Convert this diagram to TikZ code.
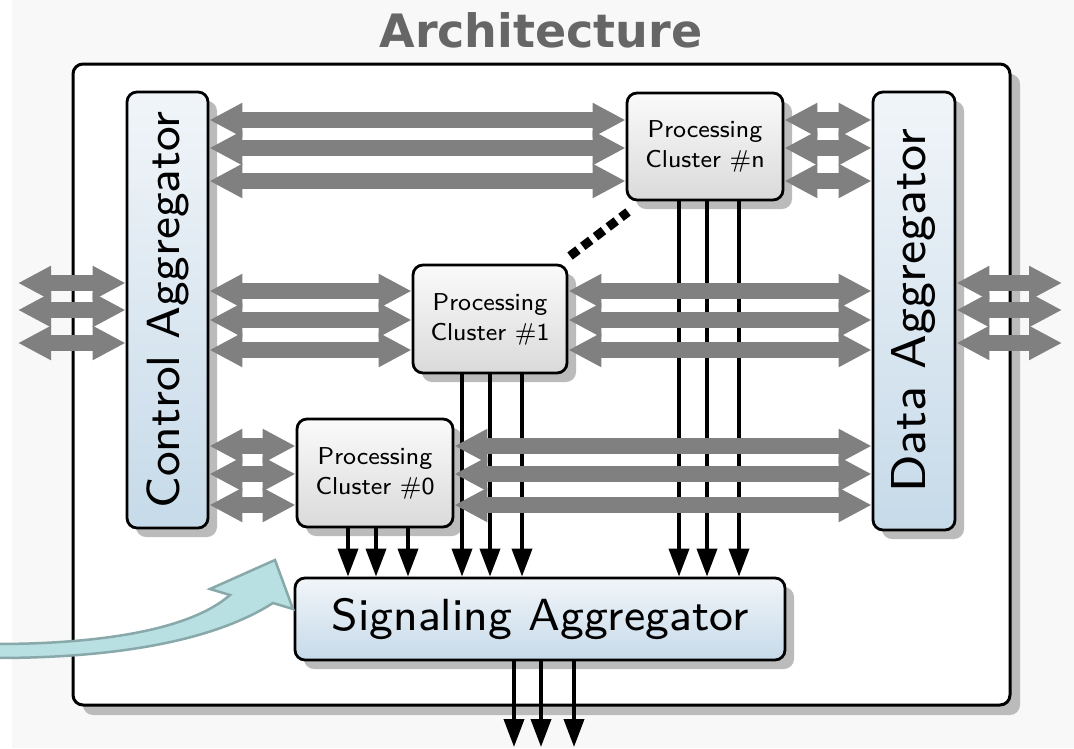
\documentclass[tikz,border=0pt]{standalone}
\usepackage{fontspec}
\newfontfamily\titlefont{DejaVu Sans}
\newfontfamily\boxfont{lmsans8-regular.otf}
\usetikzlibrary{arrows.meta,shadows}
\definecolor{bggray}{HTML}{F8F8F8}
\definecolor{titlegray}{HTML}{666666}
\definecolor{fatgray}{HTML}{808080}
\definecolor{shadowgray}{HTML}{BBBBBB}
\definecolor{aggtop}{HTML}{F1F5F9}
\definecolor{aggbot}{HTML}{C6DAE9}
\definecolor{pctop}{HTML}{FAFAFA}
\definecolor{pcbot}{HTML}{DADADA}
\definecolor{tealfill}{HTML}{B8DFE1}
\definecolor{tealline}{HTML}{88A8A9}
\tikzset{
  myshadow/.style={drop shadow={shadow xshift=9pt, shadow yshift=-9pt, opacity=1, fill=shadowgray}},
  box/.style={draw=black, line width=2.8pt, rounded corners=10pt, inner sep=0pt, align=center, font=\boxfont, myshadow},
  pcbox/.style={box, top color=pctop, bottom color=pcbot, minimum width=156pt, minimum height=107pt,
    font=\boxfont\fontsize{24.4}{30}\selectfont},
  aggbox/.style={box, top color=aggtop, bottom color=aggbot, font=\boxfont\fontsize{45}{50}\selectfont},
  fat/.style={draw=fatgray, line width=16pt, {Triangle[length=33pt,width=32pt]}-{Triangle[length=33pt,width=32pt]}},
  blk/.style={draw=black, line width=3.8pt, -{Triangle[length=28pt,width=20pt]}},
}
\begin{document}
\begin{tikzpicture}[x=1pt,y=-1pt]
\useasboundingbox (0,0) rectangle (1074,748);
\fill[bggray] (0,0) rectangle (1074,748);
\fill[white] (0,0) rectangle (12,748);

% title
\node[font=\titlefont\bfseries\fontsize{46}{50}\selectfont, text=titlegray] (title) at (541,30) {Architecture};

% outer frame
\node[draw=black, line width=3pt, rounded corners=10pt, fill=white, minimum width=937pt, minimum height=641pt,
  drop shadow={shadow xshift=10pt, shadow yshift=-10pt, opacity=1, fill=shadowgray}] (frame) at (541.5,384.5) {};

% nodes
\node[aggbox, minimum width=81pt, minimum height=436pt] (ctrl) at (167.5,310) {\rotatebox{90}{\fontsize{46.5}{50}\selectfont Control Aggregator}};
\node[aggbox, minimum width=82pt, minimum height=438pt] (data) at (914,311) {\rotatebox{90}{\fontsize{49}{54}\selectfont Data Aggregator}};
\node[pcbox] (pcn) at (705,146.5) {Processing\\Cluster \#n};
\node[pcbox, minimum width=154pt, minimum height=108pt] (pc1) at (490,319) {Processing\\Cluster \#1};
\node[pcbox, minimum height=108pt] (pc0) at (375,473) {Processing\\Cluster \#0};
\node[aggbox, minimum width=490pt, minimum height=82pt] (sig) at (540,619) {Signaling Aggregator};

% free ends
\coordinate (inL) at (18,310);
\coordinate (inR) at (1062,310);
\coordinate (outB) at (0,747);

% black signal arrows
\foreach \x in {679,707,739} \draw[blk] (pcn.south -| \x,0) -- (sig.north -| \x,0);
\foreach \x in {462,490,522} \draw[blk] (pc1.south -| \x,0) -- (sig.north -| \x,0);
\foreach \x in {348,376,408} \draw[blk] (pc0.south -| \x,0) -- (sig.north -| \x,0);
\foreach \x in {514,541,574} \draw[blk] (sig.south -| \x,0) -- (outB -| \x,0);

% fat gray arrows
\foreach \y in {120,148,181} {
  \draw[fat] (ctrl.east |- 0,\y) -- (pcn.west |- 0,\y);
  \draw[fat] (pcn.east |- 0,\y) -- (data.west |- 0,\y);
}
\foreach \y in {291,320,350} {
  \draw[fat] (ctrl.east |- 0,\y) -- (pc1.west |- 0,\y);
  \draw[fat] (pc1.east |- 0,\y) -- (data.west |- 0,\y);
}
\foreach \y in {446,474,505} {
  \draw[fat] (ctrl.east |- 0,\y) -- (pc0.west |- 0,\y);
  \draw[fat] (pc0.east |- 0,\y) -- (data.west |- 0,\y);
}
\foreach \y in {283,310,343} {
  \draw[fat] (inL |- 0,\y) -- (ctrl.west |- 0,\y);
  \draw[fat] (data.east |- 0,\y) -- (inR |- 0,\y);
}

% dots between clusters
\draw[line width=9pt, dash pattern=on 10pt off 6pt] (570,256) -- (628,212);

% curved pointer arrow
\filldraw[fill=tealfill, draw=tealline, line width=2.5pt, line join=miter]
  (-5,644) .. controls (100,644) and (190,630) .. (230,595)
  -- (210,589) -- (275,560) -- (293,609) -- (273,603)
  .. controls (215,640) and (120,658) .. (-5,658) -- cycle;
\end{tikzpicture}
\end{document}
